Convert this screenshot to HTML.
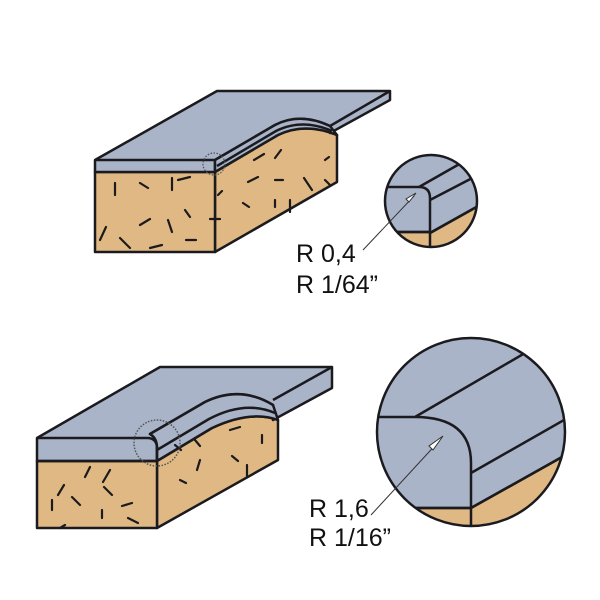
<!DOCTYPE html>
<html><head><style>body{margin:0;background:#fff}svg{display:block}</style></head><body>
<svg width="600" height="600" viewBox="0 0 600 600" xmlns="http://www.w3.org/2000/svg" font-family="'Liberation Sans', sans-serif">
<g stroke="#1b1b1f" stroke-width="2.5" stroke-linejoin="round">
<!-- TOP BLOCK -->
<path d="M215,172 L278,135 Q305,122 337,135 L337,182 L215,252 Z" fill="#e0b883"/>
<rect x="95" y="172" width="120" height="80" fill="#e0b883"/>
<path d="M95,160 L217,91 L390,91 L390,100 L330,133 L330,126 Q300,112 275,125 L215,160 L215,172 L95,172 Z" fill="#aab4c8"/>
<path d="M215,160 L275,125 Q300,112 330,126 L337,135 Q305,122 278,135 L215,172 Z" fill="#aab4c8"/>
<path d="M95,160 L215,160 M390,91 L330,126 M217,166 L276,131 Q302,118 332,131" fill="none"/>
<!-- BOTTOM BLOCK -->
<path d="M157,461 L212,428 Q250,410 278,420 L278,460 L157,528 Z" fill="#e0b883"/>
<rect x="37" y="461" width="120" height="67" fill="#e0b883"/>
<path d="M37,438 L160,367 L332,367 L332,388 L273,420 L273,405 Q240,385 205,402 L150,434 Q157,438 157,448 L157,461 L37,461 Z" fill="#aab4c8"/>
<path d="M150,434 L205,402 Q240,385 273,405 L278,420 Q250,410 212,428 L157,461 L157,448 Q157,438 150,434 Z" fill="#aab4c8"/>
<path d="M37,438 L147,438 Q157,438 157,448 L157,461 M332,367 L273,400 M37,461 L157,461 M157,450 L209,419 Q245,400 275,413" fill="none"/>
<!-- small circle -->
<clipPath id="c1"><circle cx="431" cy="201" r="46"/></clipPath>
<g clip-path="url(#c1)">
<rect x="380" y="150" width="110" height="110" fill="#aab4c8"/>
<path d="M380,232 L430,232 L430,233 L480,205 L480,260 L380,260 Z" fill="#e0b883"/>
<path d="M380,187 L419,187 Q430,187 430,198 L430,250 M419,187 L470,158 M430,200 L480,174 M430,233 L480,205 M380,232 L430,232" fill="none"/>
</g>
<circle cx="431" cy="201" r="46" fill="none"/>
<!-- big circle -->
<clipPath id="c2"><circle cx="471" cy="432" r="94"/></clipPath>
<g clip-path="url(#c2)">
<rect x="370" y="330" width="210" height="210" fill="#aab4c8"/>
<path d="M370,508 L471,508 L571,452 L571,540 L370,540 Z" fill="#e0b883"/>
<path d="M370,417 L415,417 Q471,417 471,463 L471,530 M415,417 L525,353 M471,473 L571,416 M471,508 L571,452 M370,508 L471,508" fill="none"/>
</g>
<circle cx="471" cy="432" r="94" fill="none"/>
</g>
<!-- texture dashes -->
<g stroke="#1b1b1f" stroke-width="2.2" stroke-linecap="round">
<path d="M115,183 l0,12 M140,183 l8,5 M172,178 l0,12 M178,180 l12,-3 M100,240 l6,-13 M140,225 l10,-6 M168,220 l4,12 M185,210 l5,7 M120,238 l10,10 M150,248 l12,-3 M186,240 l10,0 M210,219 l10,0 M254,160 l10,-6 M275,158 l6,-8 M248,182 l10,-5 M275,180 l8,0 M304,178 l8,12 M275,200 l0,7 M243,203 l6,4 M290,200 l0,12 M218,195 l4,-4 M325,180 l5,5 M325,160 l4,-3"/>
<path d="M64,485 l-6,10 M90,467 l-5,10 M110,470 l-7,12 M72,497 l8,8 M104,487 l8,8 M132,503 l-10,3 M52,500 l0,10 M102,510 l0,8 M128,518 l10,5 M60,528 l5,-3 M230,430 l10,-3 M262,435 l0,8 M195,440 l5,6 M232,456 l6,5 M247,465 l0,12 M175,445 l6,5 M180,480 l6,3 M200,460 l-3,10"/>
</g>
<!-- dotted circles -->
<circle cx="214" cy="164" r="11" fill="none" stroke="#555" stroke-width="1.3" stroke-dasharray="1.5,1.5"/>
<circle cx="157" cy="443" r="23" fill="none" stroke="#555" stroke-width="1.5" stroke-dasharray="1.5,1.5"/>
<!-- leaders -->
<g stroke="#333" stroke-width="1" fill="#fff">
<line x1="363" y1="250" x2="414" y2="196"/>
<path d="M416,193 l-10,6 l3,3 Z"/>
<line x1="371" y1="515" x2="440" y2="440"/>
<path d="M443,436 l-14,10 l4,4 Z"/>
</g>
<g font-size="25" fill="#111">
<text x="296" y="262">R 0,4</text>
<text x="296" y="293">R 1/64”</text>
<text x="309" y="517">R 1,6</text>
<text x="309" y="546">R 1/16”</text>
</g>
</svg>
</body></html>
